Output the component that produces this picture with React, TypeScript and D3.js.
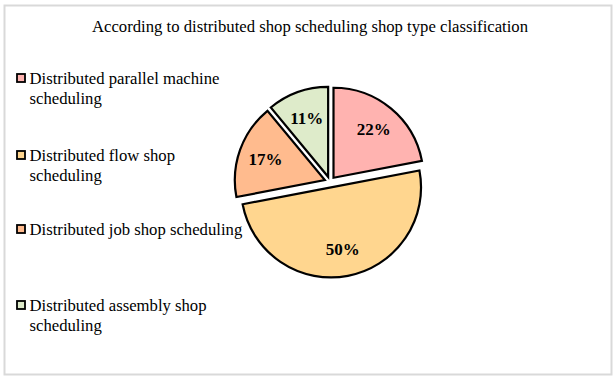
import React, { useRef, useEffect } from 'react';
import * as d3 from 'd3';

const categories = [
  'Distributed parallel machine scheduling',
  'Distributed flow shop scheduling',
  'Distributed job shop scheduling',
  'Distributed assembly shop scheduling',
];
const shares = [22, 50, 17, 11];
const colors = ['#ffb3b0', '#ffd68f', '#ffbb8e', '#deebca'];
// legend text wrapped the way the original wraps it
const legendLines = [
  ['Distributed parallel machine', 'scheduling'],
  ['Distributed flow shop', 'scheduling'],
  ['Distributed job shop scheduling'],
  ['Distributed assembly shop', 'scheduling'],
];
const legendY = [78, 155, 229, 305];

const App = () => {
  const svgRef = useRef<SVGSVGElement>(null);

  useEffect(() => {
    const width = 616;
    const height = 381;
    const svg = d3.select(svgRef.current).attr('width', width).attr('height', height);
    svg.selectAll('*').remove();

    const font = '"Liberation Serif", "Times New Roman", serif';

    svg
      .append('rect')
      .attr('x', 4.5)
      .attr('y', 5.5)
      .attr('width', 607)
      .attr('height', 369)
      .attr('fill', '#fff')
      .attr('stroke', '#d9d9d9')
      .attr('stroke-width', 2);

    svg
      .append('text')
      .attr('x', 310)
      .attr('y', 31.5)
      .attr('text-anchor', 'middle')
      .attr('font-family', font)
      .attr('font-size', 16.7)
      .attr('fill', '#000')
      .text('According to distributed shop scheduling shop type classification');

    // legend
    const legend = svg.append('g');
    categories.forEach((c, i) => {
      const g = legend.append('g').attr('transform', `translate(0,${legendY[i]})`);
      g.append('rect')
        .attr('x', 17)
        .attr('y', -4)
        .attr('width', 8)
        .attr('height', 8)
        .attr('fill', colors[i])
        .attr('stroke', '#000')
        .attr('stroke-width', 1.8);
      legendLines[i].forEach((ln, j) => {
        g.append('text')
          .attr('x', 29.5)
          .attr('y', 6 + j * 20)
          .attr('font-family', font)
          .attr('font-size', 16.7)
          .attr('fill', '#000')
          .text(ln);
      });
    });

    // pie
    const cx = 330;
    const cy = 182;
    const r = 90;
    const explode = 5.5;
    const pie = d3.pie<number>().sort(null).value((d) => d);
    const arcs = pie(shares);
    const arc = d3.arc<d3.PieArcDatum<number>>().innerRadius(0).outerRadius(r);
    const pieG = svg.append('g').attr('transform', `translate(${cx},${cy})`);

    arcs.forEach((a, i) => {
      const mid = (a.startAngle + a.endAngle) / 2;
      const dx = Math.sin(mid) * explode;
      const dy = -Math.cos(mid) * explode;
      const g = pieG.append('g').attr('transform', `translate(${dx},${dy})`);
      g.append('path')
        .attr('d', arc(a))
        .attr('fill', colors[i])
        .attr('stroke', '#000')
        .attr('stroke-width', 2.2)
        .attr('stroke-linejoin', 'miter');
      const lr = r * 0.7;
      g.append('text')
        .attr('x', Math.sin(mid) * lr)
        .attr('y', -Math.cos(mid) * lr)
        .attr('dy', '0.35em')
        .attr('text-anchor', 'middle')
        .attr('font-family', font)
        .attr('font-weight', 'bold')
        .attr('font-size', 17)
        .attr('fill', '#000')
        .text(`${shares[i]}%`);
    });
  }, []);

  return (
    <div style={{ position: 'absolute', left: 0, top: 0 }}>
      <svg ref={svgRef} style={{ display: 'block' }} />
    </div>
  );
};

export default App;
